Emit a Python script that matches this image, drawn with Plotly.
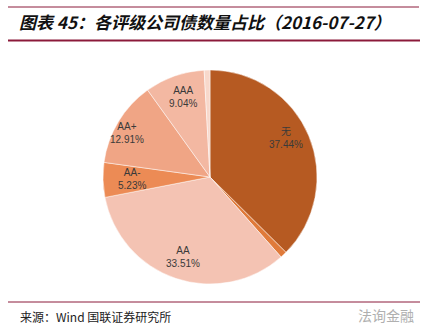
import math
import plotly.graph_objects as go

labels = ["无", "A+", "AA", "AA-", "AA+", "AAA", "其他"]
values = [37.44, 1.00, 33.51, 5.23, 12.91, 9.04, 0.87]
show_text = [True, False, True, True, True, True, False]
colors = ["#B65A22", "#E07A3A", "#F4C3B3", "#EC8B55", "#F0A585", "#F3B8A2", "#F8D8CB"]

# label placement (style): radius fraction and angular nudge per slice
label_rfrac = [0.80, 0.8, 0.79, 0.73, 0.88, 0.79, 0.8]
label_dang = [-4.5, 0, 0, 0, -3, 1, 0]

title_text = "图表 45：各评级公司债数量占比（2016-07-27）"
source_text = "来源：Wind 国联证券研究所"
watermark = "法询金融"

W, H = 428, 334
cx, cy, r = 210, 177, 107

fig = go.Figure(go.Pie(
    labels=labels, values=values, sort=False, direction="clockwise", rotation=0,
    marker=dict(colors=colors, line=dict(color="rgba(255,255,255,0.6)", width=0.8)),
    textinfo="none", hoverinfo="label+percent", showlegend=False,
    domain=dict(x=[(cx - r) / W, (cx + r) / W], y=[1 - (cy + r) / H, 1 - (cy - r) / H]),
))

def py(y):
    return 1 - y / H

annotations = []
total = sum(values)
cum = 0.0
for lab, v, s, rf, da in zip(labels, values, show_text, label_rfrac, label_dang):
    mid = (cum + v / 2) / total * 360 + da
    cum += v
    if not s:
        continue
    a = math.radians(mid)
    x = cx + rf * r * math.sin(a)
    y = cy - rf * r * math.cos(a)
    annotations.append(dict(
        text=f"{lab}<br>{v:.2f}%", xref="paper", yref="paper", x=x / W, y=py(y),
        xanchor="center", yanchor="middle", showarrow=False, align="center",
        font=dict(family="Liberation Sans, Noto Sans CJK SC", size=10, color="#3A3A3A")))

shapes = [
    dict(type="line", xref="paper", yref="paper", x0=8 / W, x1=419 / W, y0=py(7), y1=py(7),
         line=dict(color="#8B1A3A", width=1)),
    dict(type="line", xref="paper", yref="paper", x0=8 / W, x1=420 / W, y0=py(40.5), y1=py(40.5),
         line=dict(color="#8B1A3A", width=2)),
    dict(type="line", xref="paper", yref="paper", x0=8 / W, x1=420 / W, y0=py(302), y1=py(302),
         line=dict(color="#8B1A3A", width=1)),
]

annotations += [
    dict(text="<b><i>" + title_text + "</i></b>", xref="paper", yref="paper", x=17 / W, y=py(22),
         xanchor="left", yanchor="middle", showarrow=False,
         font=dict(family="Noto Sans CJK SC", size=17, color="#111111")),
    dict(text=source_text, xref="paper", yref="paper", x=18 / W, y=py(316),
         xanchor="left", yanchor="middle", showarrow=False,
         font=dict(family="Noto Sans CJK SC", size=12, color="#222222")),
    dict(text=watermark, xref="paper", yref="paper", x=416 / W, y=py(315),
         xanchor="right", yanchor="middle", showarrow=False,
         font=dict(family="Noto Sans CJK SC", size=14, color="#B0B0B0")),
]

fig.update_layout(
    width=W, height=H, margin=dict(l=0, r=0, t=0, b=0),
    paper_bgcolor="white", plot_bgcolor="white",
    shapes=shapes, annotations=annotations,
)

fig.write_html("out.html")
